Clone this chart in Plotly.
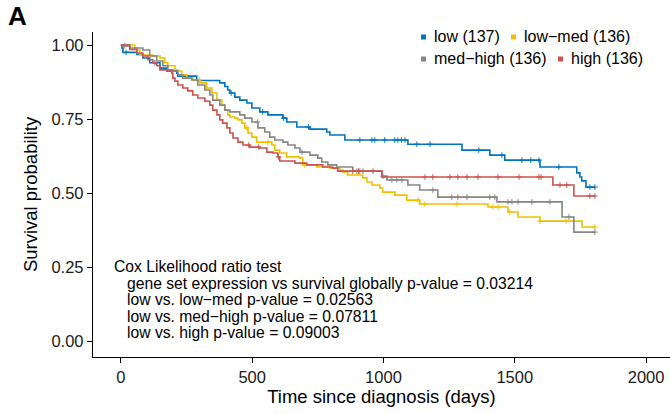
import plotly.graph_objects as go
import numpy as np

# ---- data ----
groups = ["low (137)", "low\u2212med (136)", "med\u2212high (136)", "high (136)"]
colors = ["#0073C2", "#EFC000", "#868686", "#CD534C"]

low_t = [0, 4, 8, 61, 84, 110, 149, 175, 213, 217, 289, 377, 396, 407, 415, 434, 453, 480, 499, 529, 560,
         617, 632, 670, 720, 784, 796, 853, 1093, 1299, 1405, 1462, 1596, 1736, 1748, 1755, 1771, 1805]
low_s = [1.0, 0.99, 0.975, 0.968, 0.956, 0.94, 0.922, 0.912, 0.905, 0.895, 0.88, 0.872, 0.86, 0.848, 0.838,
         0.824, 0.814, 0.804, 0.787, 0.774, 0.764, 0.753, 0.74, 0.723, 0.716, 0.706, 0.696, 0.679, 0.665,
         0.645, 0.628, 0.611, 0.588, 0.568, 0.554, 0.541, 0.52, 0.52]

lowmed_t = [0, 53, 61, 72, 122, 149, 167, 179, 206, 217, 232, 251, 274, 301, 327, 347, 366, 385, 396, 407,
            415, 434, 446, 461, 472, 484, 499, 518, 575, 586, 605, 632, 681, 693, 746, 796, 834, 845, 864,
            921, 937, 956, 986, 997, 1043, 1089, 1138, 1398, 1474, 1512, 1596, 1756, 1805]
lowmed_s = [1.0, 0.99, 0.983, 0.966, 0.963, 0.956, 0.94, 0.93, 0.916, 0.912, 0.899, 0.888, 0.882, 0.872,
            0.855, 0.838, 0.814, 0.797, 0.78, 0.764, 0.757, 0.753, 0.747, 0.736, 0.72, 0.703, 0.689, 0.672,
            0.662, 0.645, 0.635, 0.622, 0.618, 0.595, 0.588, 0.584, 0.578, 0.571, 0.561, 0.551, 0.537, 0.527,
            0.517, 0.503, 0.493, 0.476, 0.463, 0.453, 0.436, 0.419, 0.405, 0.385, 0.385]

medhigh_t = [0, 9, 34, 84, 110, 137, 160, 179, 198, 217, 236, 270, 293, 320, 339, 350, 377, 396, 415, 453,
             472, 499, 522, 548, 567, 586, 617, 636, 663, 682, 720, 750, 765, 788, 822, 883, 994, 1013,
             1093, 1138, 1207, 1432, 1680, 1725, 1805]
medhigh_s = [1.0, 0.997, 0.99, 0.983, 0.963, 0.946, 0.93, 0.916, 0.912, 0.899, 0.888, 0.882, 0.865, 0.848,
             0.831, 0.814, 0.797, 0.78, 0.774, 0.764, 0.753, 0.74, 0.72, 0.706, 0.689, 0.679, 0.672, 0.662,
             0.652, 0.638, 0.628, 0.618, 0.605, 0.595, 0.588, 0.574, 0.557, 0.544, 0.527, 0.51, 0.486, 0.47,
             0.419, 0.368, 0.368]

high_t = [0, 34, 61, 84, 103, 122, 137, 149, 175, 194, 198, 206, 217, 236, 255, 274, 293, 320, 339, 350,
          366, 377, 388, 404, 415, 427, 446, 465, 491, 529, 556, 579, 598, 605, 663, 708, 769, 807, 826,
          994, 1645, 1725, 1805]
high_s = [1.0, 0.985, 0.973, 0.963, 0.95, 0.94, 0.93, 0.916, 0.912, 0.905, 0.888, 0.878, 0.865, 0.855,
          0.845, 0.831, 0.821, 0.81, 0.797, 0.78, 0.764, 0.747, 0.736, 0.72, 0.703, 0.686, 0.672, 0.662,
          0.655, 0.652, 0.638, 0.635, 0.622, 0.608, 0.601, 0.595, 0.588, 0.584, 0.574, 0.554, 0.527, 0.49,
          0.49]

low_cens = [20, 130, 420, 540, 620, 715, 910, 956, 967, 1005, 1043, 1055, 1068, 1082, 1127, 1177,
            1363, 1451, 1527, 1561, 1592, 1668, 1786, 1805]
lowmed_cens = [300, 480, 560, 700, 1131, 1158, 1280, 1417, 1436, 1481, 1596, 1695, 1805]
medhigh_cens = [15, 520, 690, 899, 910, 922, 998, 1032, 1051, 1070, 1188, 1260, 1283, 1318, 1405,
                1424, 1474, 1489, 1512, 1565, 1634, 1706, 1805]
high_cens = [487, 525, 600, 883, 905, 960, 1158, 1188, 1253, 1283, 1318, 1360, 1436, 1516, 1592, 1600,
             1672, 1698, 1786, 1805]

series_t = [low_t, lowmed_t, medhigh_t, high_t]
series_s = [low_s, lowmed_s, medhigh_s, high_s]
series_c = [low_cens, lowmed_cens, medhigh_cens, high_cens]

stats_title = "Cox Likelihood ratio test"
stats_lines = [
    "gene set expression vs survival globally p-value = 0.03214",
    "low vs. low\u2212med p-value = 0.02563",
    "low vs. med\u2212high p-value = 0.07811",
    "low vs. high p-value = 0.09003",
]

x_ticks = [0, 500, 1000, 1500, 2000]
y_ticks = [0.0, 0.25, 0.5, 0.75, 1.0]

FONT = "Liberation Sans, Arial, sans-serif"

fig = go.Figure()
for t, s, c, col, name in zip(series_t, series_s, series_c, colors, groups):
    fig.add_trace(go.Scatter(x=t, y=s, mode="lines", line=dict(color=col, width=1.6, shape="hv"),
                             name=name, showlegend=False, hoverinfo="skip"))
    ta = np.array(t)
    sa = np.array(s)
    idx = np.searchsorted(ta, np.array(c), side="right") - 1
    fig.add_trace(go.Scatter(x=c, y=sa[idx], mode="markers",
                             marker=dict(symbol="cross-thin-open", size=4, color=col,
                                         line=dict(color=col, width=1)),
                             showlegend=False, hoverinfo="skip"))

W, H = 670, 414
L, R, T, B = 93, 0, 32, 57
pw, ph = W - L - R, H - T - B


def px(x):
    return (x - L) / pw


def py(y):
    return (H - B - y) / ph


annotations = []
shapes = []
# panel letter
annotations.append(dict(text="<b>A</b>", x=px(6), y=py(16), xref="paper", yref="paper",
                        xanchor="left", yanchor="middle", showarrow=False,
                        font=dict(family=FONT, size=26, color="black")))
# legend
leg = [(421, 37, 0), (511, 37, 1), (421, 59, 2), (558, 59, 3)]
for lx, ly, i in leg:
    shapes.append(dict(type="rect", xref="paper", yref="paper",
                       x0=px(lx), x1=px(lx + 5), y0=py(ly - 2.5), y1=py(ly + 2.5),
                       fillcolor=colors[i], line=dict(width=0)))
    annotations.append(dict(text=groups[i], x=px(lx + 11), y=py(ly), xref="paper", yref="paper",
                            xanchor="left", yanchor="middle", showarrow=False,
                            font=dict(family=FONT, size=16, color="black")))
# stats text
annotations.append(dict(text=stats_title, x=px(112), y=py(266), xref="paper", yref="paper",
                        xanchor="left", yanchor="middle", showarrow=False,
                        font=dict(family=FONT, size=15.7, color="black")))
for k, line in enumerate(stats_lines):
    annotations.append(dict(text=line, x=px(125), y=py(283 + k * 16.5), xref="paper", yref="paper",
                            xanchor="left", yanchor="middle", showarrow=False,
                            font=dict(family=FONT, size=15.7, color="black")))

fig.update_layout(
    width=W, height=H,
    margin=dict(l=L, r=R, t=T, b=B),
    plot_bgcolor="white", paper_bgcolor="white",
    font=dict(family=FONT, color="black"),
    annotations=annotations, shapes=shapes,
    xaxis=dict(range=[-106, 2091], tickvals=x_ticks, ticktext=[str(v) for v in x_ticks],
               showgrid=False, zeroline=False, showline=True, linecolor="black", linewidth=1.3,
               ticks="outside", ticklen=5, tickwidth=1.3, tickcolor="black",
               tickfont=dict(size=16.5, color="#1a1a1a"),
               title=dict(text="Time since diagnosis (days)", font=dict(size=18.5, color="black"), standoff=4)),
    yaxis=dict(range=[-0.054, 1.044], tickvals=y_ticks, ticktext=["%.2f" % v for v in y_ticks],
               showgrid=False, zeroline=False, showline=True, linecolor="black", linewidth=1.3,
               ticks="outside", ticklen=5, tickwidth=1.3, tickcolor="black",
               tickfont=dict(size=16.5, color="#1a1a1a"),
               title=dict(text="Survival probability", font=dict(size=18.5, color="black"), standoff=8)),
)

fig.write_html("out.html")
